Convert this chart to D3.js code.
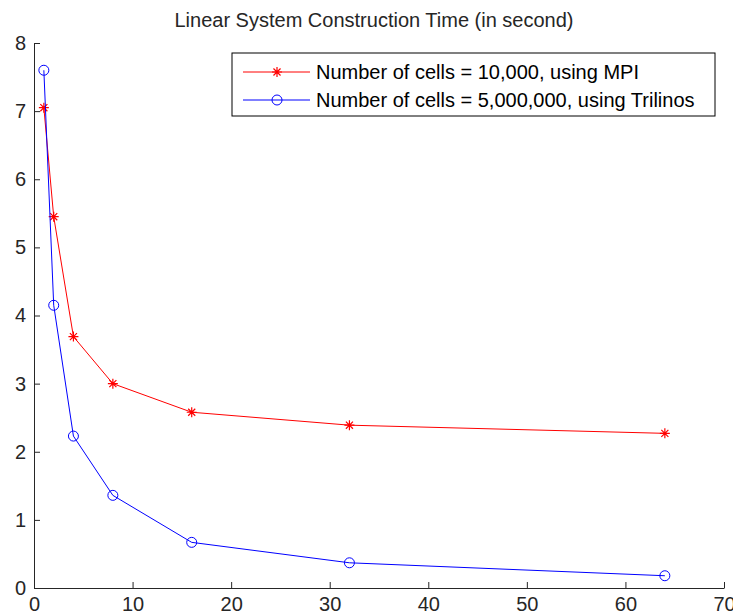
<!DOCTYPE html>
<html>
<head>
<meta charset="utf-8">
<script src="https://cdn.jsdelivr.net/npm/d3@7"></script>
<style>
  body { margin: 0; background: #fff; }
  svg { font-family: "Liberation Sans", Arial, sans-serif; }
</style>
</head>
<body>
<div id="chart"></div>
<script>
// processor counts and timings (seconds)
const procs = [1, 2, 4, 8, 16, 32, 64];
const mpiTimes = [7.05, 5.45, 3.69, 3.0, 2.58, 2.39, 2.27];
const trilinosTimes = [7.6, 4.15, 2.23, 1.36, 0.67, 0.37, 0.18];
const seriesLabels = [
  "Number of cells = 10,000, using MPI",
  "Number of cells = 5,000,000, using Trilinos"
];
const xTicks = [0, 10, 20, 30, 40, 50, 60, 70];
const yTicks = [0, 1, 2, 3, 4, 5, 6, 7, 8];

const svgWidth = 733;
const svgHeight = 614;
const margin = { top: 43, right: 9, bottom: 26, left: 34 };
const width = svgWidth - margin.left - margin.right;
const height = svgHeight - margin.top - margin.bottom;

const svg = d3
  .select("#chart")
  .append("svg")
  .attr("width", svgWidth)
  .attr("height", svgHeight);

const g = svg
  .append("g")
  .attr("transform", `translate(${margin.left},${margin.top})`);

const x = d3.scaleLinear().domain([0, 70]).range([0, width]);
const y = d3.scaleLinear().domain([0, 8]).range([height, 0]);

// axes, MATLAB style with inward ticks
const xAxis = g
  .append("g")
  .attr("transform", `translate(0,${height})`)
  .call(d3.axisBottom(x).tickValues(xTicks).tickSize(-6).tickPadding(9).tickSizeOuter(0));
const yAxis = g
  .append("g")
  .call(d3.axisLeft(y).tickValues(yTicks).tickSize(-6).tickPadding(8).tickSizeOuter(0));

[xAxis, yAxis].forEach((ax) => {
  ax.attr("font-size", null).attr("font-family", null);
  ax.selectAll("path, line").attr("stroke", "#262626").attr("stroke-width", 1);
  ax.selectAll("text")
    .attr("fill", "#262626")
    .style("font-size", "20px");
});

const series = [
  { values: mpiTimes, color: "#ff0000", marker: "star" },
  { values: trilinosTimes, color: "#0000ff", marker: "circle" }
];

const line = d3
  .line()
  .x((d) => x(d.p))
  .y((d) => y(d.t));

function drawMarker(sel, type, color) {
  if (type === "circle") {
    sel.append("circle")
      .attr("r", 5)
      .attr("fill", "none")
      .attr("stroke", color)
      .attr("stroke-width", 1);
  } else {
    const r = 5;
    const path = d3.path();
    for (let k = 0; k < 4; k++) {
      const a = (k * Math.PI) / 4;
      path.moveTo(-r * Math.cos(a), -r * Math.sin(a));
      path.lineTo(r * Math.cos(a), r * Math.sin(a));
    }
    sel.append("path")
      .attr("d", path.toString())
      .attr("stroke", color)
      .attr("stroke-width", 1.2)
      .attr("fill", "none");
  }
}

series.forEach((s) => {
  const pts = procs.map((p, i) => ({ p: p, t: s.values[i] }));
  g.append("path")
    .datum(pts)
    .attr("d", line)
    .attr("fill", "none")
    .attr("stroke", s.color)
    .attr("stroke-width", 1);

  g.selectAll(null)
    .data(pts)
    .join("g")
    .attr("transform", (d) => `translate(${x(d.p)},${y(d.t)})`)
    .each(function () {
      drawMarker(d3.select(this), s.marker, s.color);
    });
});

// title
svg.append("text")
  .attr("x", 374)
  .attr("y", 27)
  .attr("text-anchor", "middle")
  .attr("fill", "#262626")
  .style("font-size", "20px")
  .text("Linear System Construction Time (in second)");

// legend
const legend = svg.append("g").attr("transform", "translate(232,53)");
legend.append("rect")
  .attr("width", 483)
  .attr("height", 63)
  .attr("fill", "#fff")
  .attr("stroke", "#000")
  .attr("stroke-width", 1);

series.forEach((s, i) => {
  const row = legend.append("g").attr("transform", `translate(0,${19 + i * 28})`);
  row.append("line")
    .attr("x1", 11).attr("x2", 78)
    .attr("stroke", s.color).attr("stroke-width", 1);
  const m = row.append("g").attr("transform", "translate(45,0)");
  drawMarker(m, s.marker, s.color);
  row.append("text")
    .attr("x", 84)
    .attr("dy", "0.35em")
    .attr("fill", "#000")
    .style("font-size", "20px")
    .text(seriesLabels[i]);
});
</script>
</body>
</html>
